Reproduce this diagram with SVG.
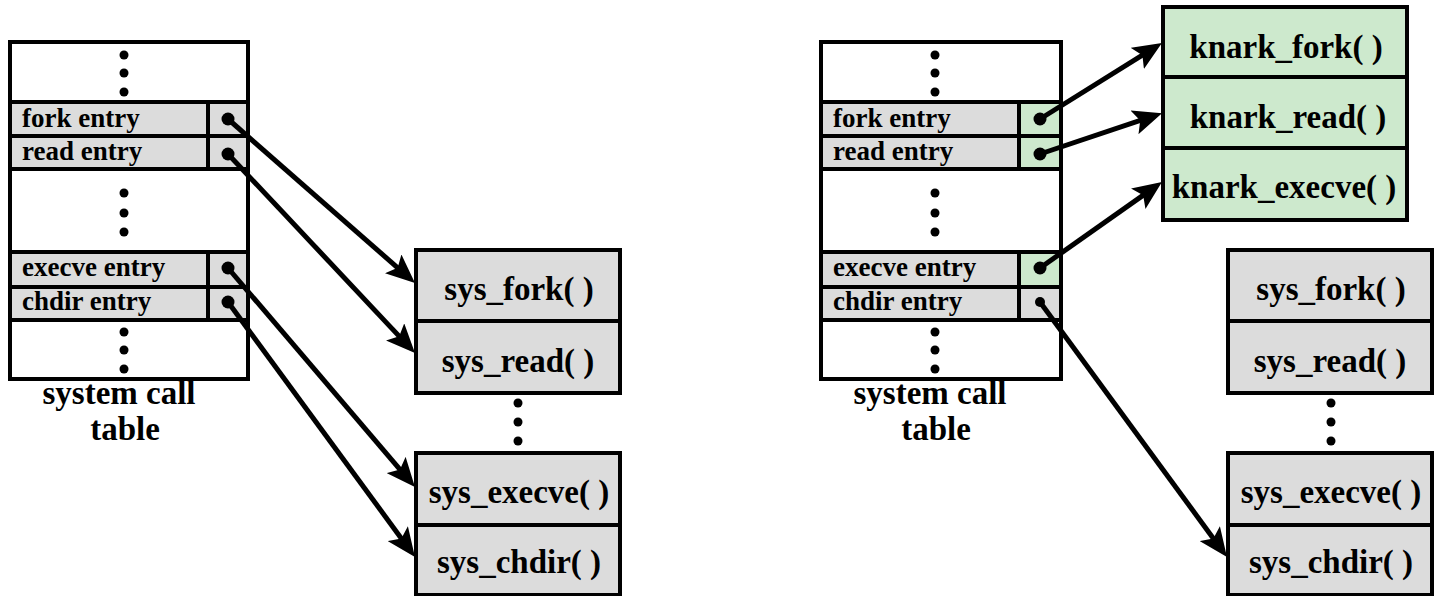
<svg xmlns="http://www.w3.org/2000/svg" width="1435" height="596" viewBox="0 0 1435 596">
<style>
.t{font-family:'Liberation Serif','Times New Roman',serif;font-weight:700;fill:#000}
.e{font-size:27px}
.b{font-size:33px;text-anchor:middle}
.c{font-size:33px;text-anchor:middle}
.frame{fill:#fff;stroke:#000;stroke-width:4}
.gray{fill:#dcdcdc;stroke:#000;stroke-width:4}
.green{fill:#cde9cd;stroke:#000;stroke-width:4}
.dot{fill:#000}
.conn line{stroke:#000;stroke-width:5;fill:none;marker-end:url(#arr)}
</style>
<defs>
<marker id="arr" markerUnits="userSpaceOnUse" markerWidth="29" markerHeight="25" viewBox="0 0 29 25" refX="14" refY="12.5" orient="auto">
<path d="M0,0 L29,12.5 L0,25 L6,12.5 z" fill="#000"/>
</marker>
</defs>
<rect width="1435" height="596" fill="#fff"/>

<g id="left-table">
<rect class="frame" x="10" y="42" width="238" height="337"/>
<rect class="gray" x="10" y="102" width="198" height="34"/>
<rect class="gray" x="208" y="102" width="40" height="34"/>
<rect class="gray" x="10" y="136" width="198" height="33"/>
<rect class="gray" x="208" y="136" width="40" height="33"/>
<rect class="gray" x="10" y="252" width="198" height="35"/>
<rect class="gray" x="208" y="252" width="40" height="35"/>
<rect class="gray" x="10" y="287" width="198" height="33"/>
<rect class="gray" x="208" y="287" width="40" height="33"/>
<text class="t e" x="22" y="127">fork entry</text>
<text class="t e" x="22" y="160">read entry</text>
<text class="t e" x="22" y="276">execve entry</text>
<text class="t e" x="22" y="310">chdir entry</text>
<circle class="dot" cx="124" cy="55" r="4.5"/><circle class="dot" cx="124" cy="73" r="4.5"/><circle class="dot" cx="124" cy="92" r="4.5"/>
<circle class="dot" cx="124" cy="193" r="4.5"/><circle class="dot" cx="124" cy="213" r="4.5"/><circle class="dot" cx="124" cy="232" r="4.5"/>
<circle class="dot" cx="124" cy="332" r="4.5"/><circle class="dot" cx="124" cy="350" r="4.5"/><circle class="dot" cx="124" cy="369" r="4.5"/>
<circle class="dot" cx="228" cy="119" r="6.5"/><circle class="dot" cx="228" cy="154" r="6.5"/>
<circle class="dot" cx="228" cy="268" r="6.5"/><circle class="dot" cx="228" cy="302" r="6.5"/>
<text class="t c" x="119" y="404">system call</text>
<text class="t c" x="125" y="440">table</text>
</g>

<g id="left-sys-top">
<rect class="gray" x="416" y="250" width="204" height="71"/>
<rect class="gray" x="416" y="321" width="204" height="72"/>
<text class="t b" x="519" y="300">sys_fork( )</text>
<text class="t b" x="518" y="372">sys_read( )</text>
</g>
<g id="left-sys-dots">
<circle class="dot" cx="518" cy="403" r="4.5"/><circle class="dot" cx="518" cy="422" r="4.5"/><circle class="dot" cx="518" cy="441" r="4.5"/>
</g>
<g id="left-sys-bottom">
<rect class="gray" x="416" y="453" width="204" height="72"/>
<rect class="gray" x="416" y="525" width="204" height="70"/>
<text class="t b" x="519" y="503">sys_execve( )</text>
<text class="t b" x="519" y="573">sys_chdir( )</text>
</g>

<g id="right-table">
<rect class="frame" x="821" y="42" width="240" height="337"/>
<rect class="gray" x="821" y="102" width="198" height="34"/>
<rect class="green" x="1019" y="102" width="42" height="34"/>
<rect class="gray" x="821" y="136" width="198" height="33"/>
<rect class="green" x="1019" y="136" width="42" height="33"/>
<rect class="gray" x="821" y="252" width="198" height="35"/>
<rect class="green" x="1019" y="252" width="42" height="35"/>
<rect class="gray" x="821" y="287" width="198" height="33"/>
<rect class="gray" x="1019" y="287" width="42" height="33"/>
<text class="t e" x="833" y="127">fork entry</text>
<text class="t e" x="833" y="160">read entry</text>
<text class="t e" x="833" y="276">execve entry</text>
<text class="t e" x="833" y="310">chdir entry</text>
<circle class="dot" cx="935" cy="55" r="4.5"/><circle class="dot" cx="935" cy="73" r="4.5"/><circle class="dot" cx="935" cy="92" r="4.5"/>
<circle class="dot" cx="935" cy="193" r="4.5"/><circle class="dot" cx="935" cy="213" r="4.5"/><circle class="dot" cx="935" cy="232" r="4.5"/>
<circle class="dot" cx="935" cy="332" r="4.5"/><circle class="dot" cx="935" cy="350" r="4.5"/><circle class="dot" cx="935" cy="369" r="4.5"/>
<circle class="dot" cx="1040" cy="119" r="6.5"/><circle class="dot" cx="1040" cy="154" r="6.5"/>
<circle class="dot" cx="1040" cy="268" r="6.5"/><circle class="dot" cx="1040" cy="302" r="5"/>
<text class="t c" x="930" y="404">system call</text>
<text class="t c" x="936" y="440">table</text>
</g>

<g id="knark">
<rect class="green" x="1163" y="7" width="244" height="70"/>
<rect class="green" x="1163" y="77" width="244" height="71"/>
<rect class="green" x="1163" y="148" width="244" height="72"/>
<text class="t b" x="1286" y="58">knark_fork( )</text>
<text class="t b" x="1288" y="128">knark_read( )</text>
<text class="t b" x="1284" y="198">knark_execve( )</text>
</g>

<g id="right-sys-top">
<rect class="gray" x="1228" y="250" width="204" height="71"/>
<rect class="gray" x="1228" y="321" width="204" height="72"/>
<text class="t b" x="1331" y="300">sys_fork( )</text>
<text class="t b" x="1330" y="372">sys_read( )</text>
</g>
<g id="right-sys-dots">
<circle class="dot" cx="1331" cy="403" r="4.5"/><circle class="dot" cx="1331" cy="422" r="4.5"/><circle class="dot" cx="1331" cy="441" r="4.5"/>
</g>
<g id="right-sys-bottom">
<rect class="gray" x="1228" y="453" width="204" height="72"/>
<rect class="gray" x="1228" y="525" width="204" height="70"/>
<text class="t b" x="1331" y="503">sys_execve( )</text>
<text class="t b" x="1331" y="573">sys_chdir( )</text>
</g>

<g id="connectors" class="conn">
<line x1="228" y1="119" x2="403.7" y2="273.1"/>
<line x1="228" y1="154" x2="404.7" y2="342.1"/>
<line x1="228" y1="268" x2="405.2" y2="475.6"/>
<line x1="228" y1="302" x2="406.1" y2="544.9"/>
<line x1="1040" y1="119" x2="1149.2" y2="50.9"/>
<line x1="1040" y1="154" x2="1147.8" y2="117.9"/>
<line x1="1040" y1="268" x2="1149.7" y2="190.6"/>
<line x1="1040" y1="302" x2="1218.1" y2="544.9"/>
</g>
</svg>
